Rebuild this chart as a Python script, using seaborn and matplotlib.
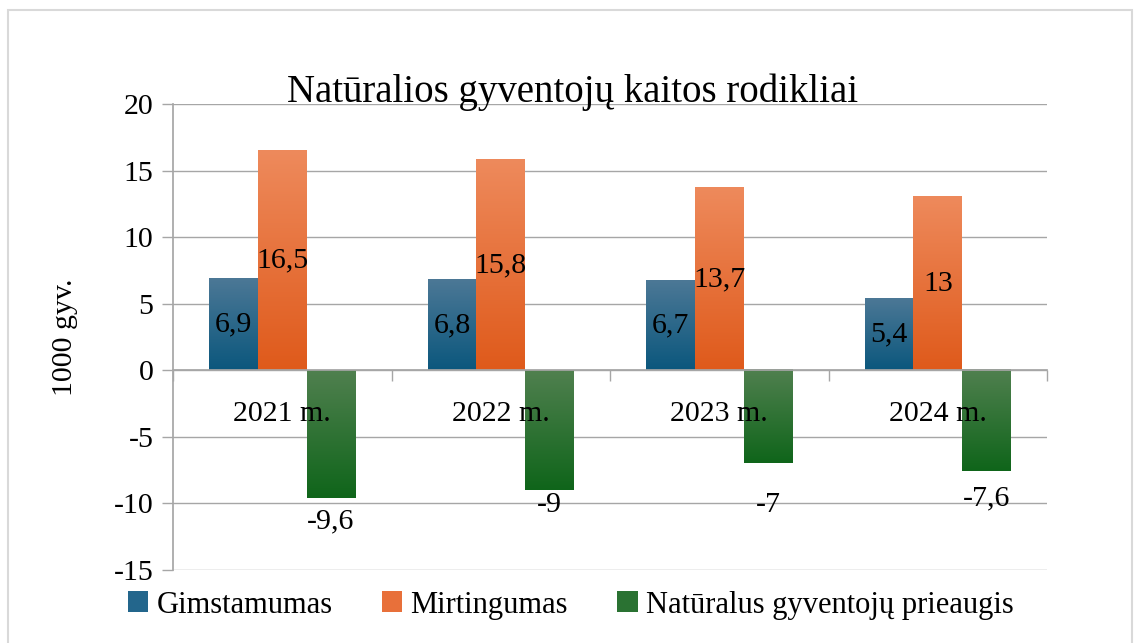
import numpy as np
import pandas as pd
import matplotlib
matplotlib.use("Agg")
import matplotlib.pyplot as plt
import seaborn as sns
from matplotlib.colors import LinearSegmentedColormap
from matplotlib.patches import Patch, Rectangle

years = ["2021 m.", "2022 m.", "2023 m.", "2024 m."]
series = ["Gimstamumas", "Mirtingumas", "Natūralus gyventojų prieaugis"]
gimstamumas = [6.9, 6.8, 6.7, 5.4]
mirtingumas = [16.5, 15.8, 13.7, 13.0]
prieaugis = [-9.6, -9.0, -7.0, -7.6]
label_text = [["6,9", "6,8", "6,7", "5,4"],
              ["16,5", "15,8", "13,7", "13"],
              ["-9,6", "-9", "-7", "-7,6"]]

# spalvos: (viršus, apačia) gradientui
grad = [("#4c7896", "#0b577d"), ("#ee8a5c", "#df5a1b"), ("#50804f", "#0f651a")]
mid = ["#23668c", "#e8703a", "#2a7232"]
# kiek taškų žemiau stulpelio galo rašomos neigiamos reikšmės (kaip originale)
neg_offset = [23, 15, 42, 27]

df = pd.DataFrame({
    "metai": years * 3,
    "serija": [s for s in series for _ in years],
    "reiksme": gimstamumas + mirtingumas + prieaugis,
})

sns.set_theme(style="white")
plt.rcParams["font.family"] = ["Liberation Serif", "DejaVu Serif"]
plt.rcParams["axes.unicode_minus"] = False

fig = plt.figure(figsize=(11.39, 6.43), dpi=100)
ax = fig.add_axes([173 / 1139, 73 / 643, 874 / 1139, 466 / 643])

sns.barplot(data=df, x="metai", y="reiksme", hue="serija", hue_order=series,
            palette=mid, width=0.67, saturation=1, legend=False, ax=ax,
            errorbar=None, zorder=3)

# gradientai ant stulpelių
bars = [p for p in ax.patches if isinstance(p, Rectangle)]
for i, p in enumerate(bars):
    si = i // len(years)
    x0, w = p.get_x(), p.get_width()
    y0, h = p.get_y(), p.get_height()
    lo, hi = min(y0, y0 + h), max(y0, y0 + h)
    cmap = LinearSegmentedColormap.from_list("g", [grad[si][0], grad[si][1]])
    g = np.linspace(0, 1, 256).reshape(-1, 1)
    ax.imshow(g, cmap=cmap, extent=[x0, x0 + w, lo, hi], origin="upper",
              aspect="auto", zorder=3.1)
    p.set_visible(False)

    val = df["reiksme"].iloc[i]
    txt = label_text[si][i % len(years)]
    cx = x0 + w / 2
    if val >= 0:
        ax.text(cx, val / 2, txt, ha="center", va="center", fontsize=21.5,
                color="black", zorder=5)
    else:
        ax.annotate(txt, (cx, val), xytext=(0, -neg_offset[i % len(years)]),
                    textcoords="offset pixels", ha="center", va="center",
                    fontsize=21.5, color="black", zorder=5)

ax.set_xlim(-0.5, 3.5)
ax.set_ylim(-15, 20)
ax.set_yticks(range(-15, 21, 5))
ax.yaxis.grid(True, color="#a6a6a6", linewidth=1.0, zorder=0)
ax.xaxis.grid(False)

for s in ["top", "right"]:
    ax.spines[s].set_visible(False)
ax.spines["left"].set_color("#a6a6a6")
ax.spines["bottom"].set_color("#a6a6a6")
ax.spines["bottom"].set_position(("data", 0))
ax.spines["bottom"].set_zorder(4)
ax.xaxis.set_zorder(6)  # metų užrašai virš žalių stulpelių

ax.tick_params(axis="y", which="major", left=True, length=8, width=1,
               color="#a6a6a6", pad=6, labelsize=21.5, labelcolor="black")
ax.tick_params(axis="x", which="major", bottom=False, length=0, pad=22,
               labelsize=21.5, labelcolor="black")
ax.set_xticks(np.arange(-0.5, 4, 1), minor=True)
ax.tick_params(axis="x", which="minor", bottom=True, length=8, width=1,
               color="#a6a6a6", direction="out")
ax.set_xlabel("")
ax.set_ylabel("1000 gyv.", fontsize=21.5, color="black", labelpad=26)

fig.text(0.503, 0.841, "Natūralios gyventojų kaitos rodikliai", ha="center",
         va="baseline", fontsize=28, color="black")

handles = [Patch(facecolor=c, edgecolor="none") for c in mid]
fig.legend(handles, series, loc="center", bbox_to_anchor=(0.501, 0.059),
           ncol=3, frameon=False, fontsize=22, handlelength=0.68,
           handleheight=0.68, handletextpad=0.27, columnspacing=1.6,
           labelcolor="black", borderaxespad=0, borderpad=0)

fig.patches.append(Rectangle((8 / 1139, -0.01), 1124 / 1139, 1.0 - 10 / 643 + 0.01,
                             transform=fig.transFigure, fill=False,
                             edgecolor="#d9d9d9", linewidth=1.5))

fig.savefig("out.png", dpi=100)
